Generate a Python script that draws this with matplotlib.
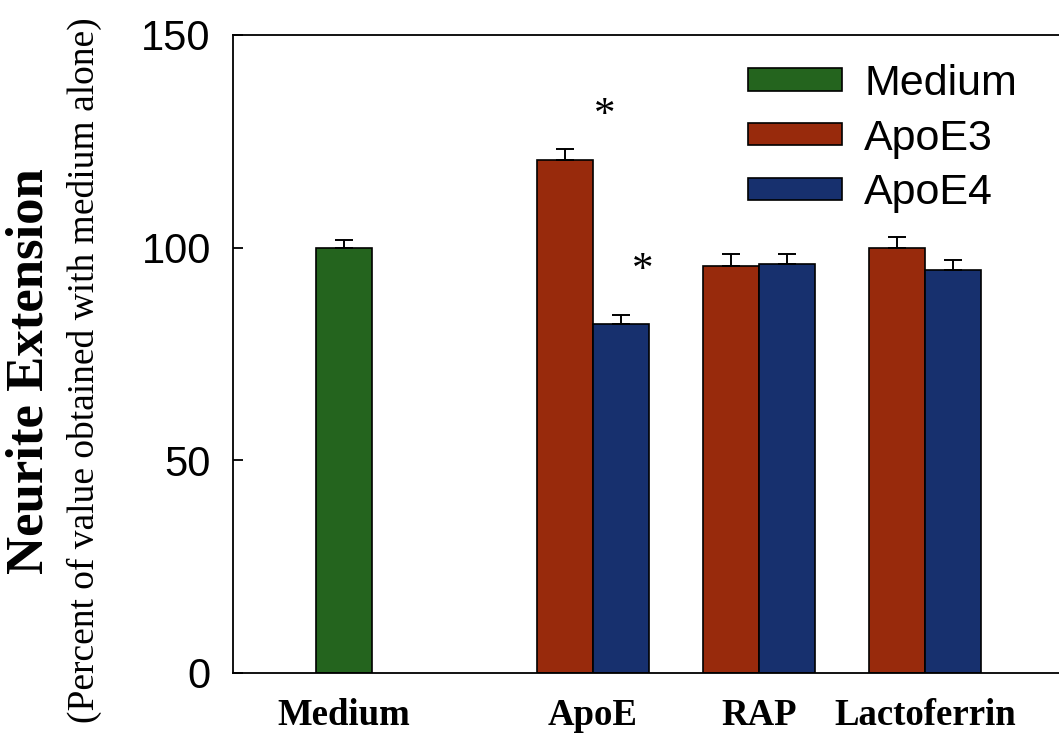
import numpy as np
import matplotlib
matplotlib.use("Agg")
import matplotlib.pyplot as plt

# values
groups = ["Medium", "ApoE", "RAP", "Lactoferrin"]
medium_val = [100.0]
medium_err = [1.7]
apoe3_vals = [120.6, 95.6, 100.0]
apoe3_errs = [2.6, 2.8, 2.4]
apoe4_vals = [82.1, 96.1, 94.8]
apoe4_errs = [2.1, 2.4, 2.3]
yticks = [0, 50, 100, 150]

green = "#24641e"
red = "#982a0c"
blue = "#17306e"

fig = plt.figure(figsize=(10.59, 7.34), dpi=100)
W, H = 1059.0, 734.0
# axes runs off the right edge like in the scanned figure
ax = fig.add_axes([233 / W, 61 / H, 860 / W, 638 / H])

x = np.array([0.0, 1.5, 2.5, 3.5])
bw = 0.337

ekw = dict(ecolor="black", elinewidth=1.4, capsize=6.8, capthick=1.4)
ax.bar(x[:1], medium_val, bw, yerr=[np.zeros(1), medium_err],
       color=green, edgecolor="black", linewidth=1.2, label="Medium", error_kw=ekw)
ax.bar(x[1:] - bw / 2, apoe3_vals, bw, yerr=[np.zeros(3), apoe3_errs],
       color=red, edgecolor="black", linewidth=1.2, label="ApoE3", error_kw=ekw)
ax.bar(x[1:] + bw / 2, apoe4_vals, bw, yerr=[np.zeros(3), apoe4_errs],
       color=blue, edgecolor="black", linewidth=1.2, label="ApoE4", error_kw=ekw)

# significance marks
ax.text(x[1] + 0.07, 131.1, "*", fontsize=31, family="Liberation Serif",
        ha="center", va="center")
ax.text(x[1] + 0.30, 94.6, "*", fontsize=31, family="Liberation Serif",
        ha="center", va="center")

ax.set_xlim(-0.669, 4.512)
ax.set_ylim(0, 150)
ax.set_yticks(yticks)
ax.set_yticklabels([str(t) for t in yticks], fontsize=30, family="Liberation Sans")
ax.tick_params(axis="y", direction="in", length=7, width=1.3, pad=16)
ax.set_xticks(x)
ax.set_xticklabels(groups, fontsize=26.5, fontweight="bold", family="Liberation Serif")
ax.tick_params(axis="x", length=0, pad=18)
for s in ["left", "bottom", "top"]:
    ax.spines[s].set_linewidth(1.3)
ax.spines["right"].set_visible(False)

leg = ax.legend(loc="upper left", bbox_to_anchor=(515 / 860, 1 - 29 / 638),
                frameon=False, prop={"family": "Liberation Sans", "size": 31},
                handlelength=2.18, handleheight=0.42, handletextpad=0.52,
                labelspacing=0.34, borderaxespad=0, borderpad=0)

fig.text(30 / W, 1 - 371 / H, "Neurite Extension", rotation=90, fontsize=38,
         fontweight="bold", family="Liberation Serif", ha="center", va="center")
fig.text(84 / W, 1 - 370 / H, "(Percent of value obtained with medium alone)",
         rotation=90, fontsize=27, family="Liberation Serif", ha="center", va="center")

fig.savefig("out.png", dpi=100)
